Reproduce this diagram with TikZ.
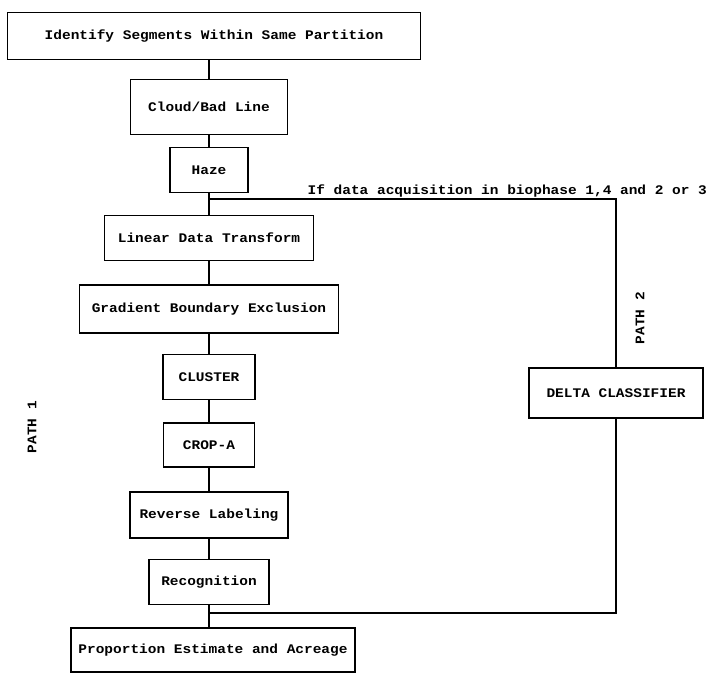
\documentclass[tikz,border=0pt]{standalone}
\usepackage{fontspec}
\setmonofont[FakeStretch=1.1]{Liberation Mono}
\usepackage{tikz}

\begin{document}
\begin{tikzpicture}[x=1bp, y=-1bp, line width=1.3bp,
  box/.style={draw, inner sep=0pt, minimum height=45bp,
    font=\ttfamily\bfseries\fontsize{13.2}{15}\selectfont},
  lbl/.style={inner sep=1bp, font=\ttfamily\bfseries\fontsize{13.2}{15}\selectfont}]

  \newcommand\X{209};
  \useasboundingbox (0,0) rectangle (708,673);

  %% path 1
  \node[box, minimum width=413bp, minimum height=47bp] (ident) at (214, 36) {Identify Segments Within Same Partition};
  \node[box, minimum width=157bp, minimum height=55bp] (cloud) at (\X, 107) {Cloud/Bad Line};
  \node[box, minimum width=78bp] (haze) at (\X, 170) {Haze};
  \node[box, minimum width=209bp] (ldt) at (\X, 238) {Linear Data Transform};
  \node[box, minimum width=259bp, minimum height=48bp] (gbe) at (\X, 309) {Gradient Boundary Exclusion};
  \node[box, minimum width=92bp] (cluster) at (\X, 377) {CLUSTER};
  \node[box, minimum width=91bp, minimum height=44bp] (cropa) at (\X, 445) {CROP-A};
  \node[box, minimum width=158bp, minimum height=46bp] (rev) at (\X, 515) {Reverse Labeling};
  \node[box, minimum width=120bp] (recog) at (\X, 582) {Recognition};
  \node[box, minimum width=284bp, minimum height=44bp] (prop) at (213, 650) {Proportion Estimate and Acreage};

  %% path 2
  \node[box, minimum width=174bp, minimum height=50bp] (delta) at (616, 393) {DELTA CLASSIFIER};

  \node[lbl, rotate=90] (path1) at (32, 427) {PATH 1};
  \node[lbl, rotate=90] (path2) at (640, 318) {PATH 2};

  \draw (cloud.north) -- (cloud.north |- ident.south);
  \draw (cloud) -- (haze);
  \draw (haze) -- (ldt);
  \draw (ldt) -- (gbe);
  \draw (gbe) -- (cluster);
  \draw (cluster) -- (cropa);
  \draw (cropa) -- (rev);
  \draw (rev) -- (recog);
  \draw (recog.south) -- (recog.south |- prop.north);

  \coordinate (split) at (\X, 199);
  \draw (split) -| (delta.north); % to delta
  \node[lbl, above right] (cond) at (306, 199) {If data acquisition in biophase 1,4 and 2 or 3};

  \coordinate (merge) at (\X, 613);
  \draw (delta.south) |- (merge); % back to proportion

\end{tikzpicture}
\end{document}
